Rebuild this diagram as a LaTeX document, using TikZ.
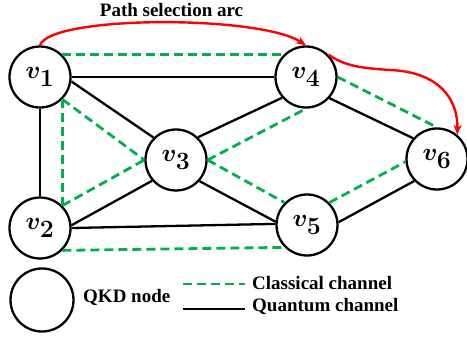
\documentclass[tikz,border=0pt]{standalone}
\usepackage{fontspec}
\setmainfont{Liberation Serif}
\usetikzlibrary{arrows.meta}
\definecolor{chgreen}{RGB}{0,176,80}
\definecolor{arcred}{RGB}{255,0,0}
\tikzset{
  qkd/.style={circle, draw=black, line width=2.3pt, minimum size=61pt, inner sep=0pt, fill=white},
  qlab/.style={font=\fontsize{35}{35}\selectfont\boldmath},
  quantum/.style={draw=black, line width=2.3pt},
  classical/.style={draw=chgreen, line width=2.8pt, dash pattern=on 9pt off 5pt},
  selarc/.style={draw=arcred, line width=2.4pt, -{Stealth[length=10pt,width=8pt]}},
  lbl/.style={font=\fontsize{19}{20}\selectfont\bfseries, inner sep=0pt}
}
\begin{document}
\begin{tikzpicture}[x=1pt, y=-1pt]
\useasboundingbox (0,0) rectangle (467,337);
% nodes
\node[qkd, qlab] (v1) at (40,77)  {$v_1$};
\node[qkd, qlab] (v2) at (40,228) {$v_2$};
\node[qkd, qlab] (v3) at (176,160) {$v_3$};
\node[qkd, qlab] (v4) at (306,77) {$v_4$};
\node[qkd, qlab] (v5) at (307,225) {$v_5$};
\node[qkd, qlab] (v6) at (437,159) {$v_6$};
% quantum channels
\draw[quantum] (v1.east) -- (v4.west);
\draw[quantum] (v1.-8) -- (v3.135);
\draw[quantum] (v1.south) -- (v2.north);
\draw[quantum] (v2.5) -- (v3.-139);
\draw[quantum] (v2.east) -- (v5.178);
\draw[quantum] (v3.46) -- (v4.-139);
\draw[quantum] (v3.-42) -- (v5.174);
\draw[quantum] (v4.-42) -- (v6.139);
\draw[quantum] (v5.5) -- (v6.-136);
% classical channels
\draw[classical] (v1.45) -- (v4.135);
\draw[classical] (v1.-45) -- (v2.45);
\draw[classical] (v1.-45) -- (v3.west);
\draw[classical] (v2.45) -- (v3.west);
\draw[classical] (v3.east) -- (v4.south);
\draw[classical] (v3.east) -- (v5.135);
\draw[classical] (v4.east) -- (v6.north);
\draw[classical] (v5.45) -- (v6.185);
\draw[classical] (v2.-45) -- (v5.-135);
% path selection arcs
\coordinate (r2mid) at (390,70);
\draw[selarc] (v1.north) .. controls (50,15) and (260,15) .. (v4.north);
\draw[selarc] (v4.45) .. controls (345,66) and (360,68) .. (r2mid) .. controls (440,72) and (458,100) .. (v6.50);
\node[lbl] (title) at (171.5,10) {Path selection arc};
% legend
\node[qkd, minimum size=63pt] (legnode) at (42,300) {};
\node[lbl, anchor=west] (legqkd) at (83,297) {QKD node};
\coordinate (gA) at (183,284);
\coordinate (gB) at (245,284);
\coordinate (bA) at (183,309);
\coordinate (bB) at (245,309);
\draw[classical] (gA) -- (gB);
\draw[quantum] (bA) -- (bB);
\node[lbl, anchor=west] (legcl) at (252,283) {Classical channel};
\node[lbl, anchor=west] (legqu) at (252,306) {Quantum channel};
\end{tikzpicture}
\end{document}
